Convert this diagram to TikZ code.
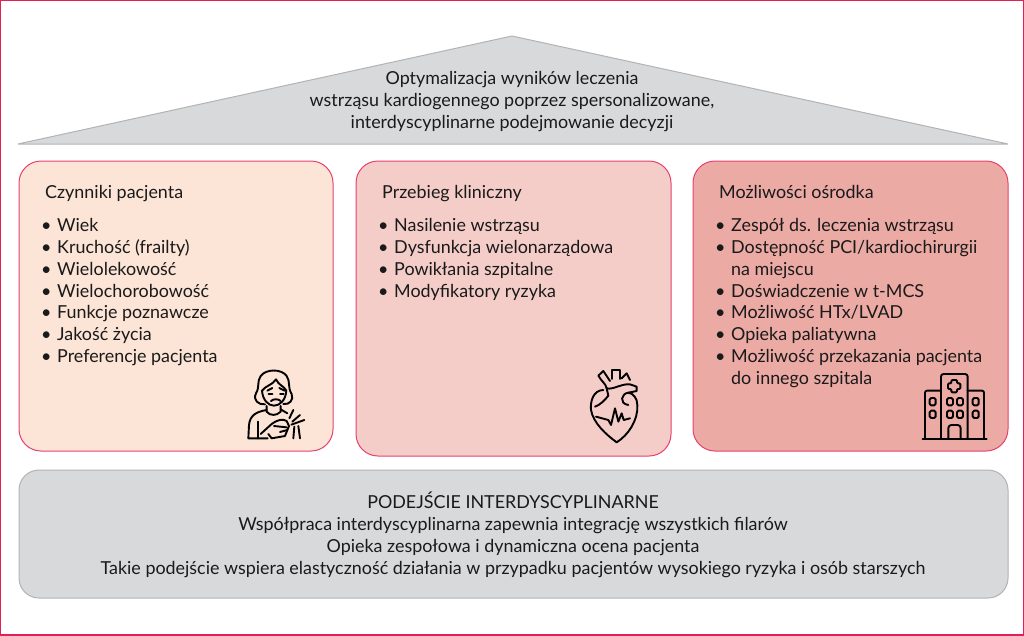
\documentclass[tikz,border=0pt]{standalone}
\usepackage{fontspec}
\setmainfont{Lato}
\usetikzlibrary{positioning}
\definecolor{Frame}{RGB}{226,32,84}
\definecolor{RoofGray}{RGB}{216,217,219}
\definecolor{RoofLine}{RGB}{178,179,181}
\definecolor{PeachFill}{RGB}{252,228,214}
\definecolor{RoseFill}{RGB}{244,205,200}
\definecolor{CoralFill}{RGB}{236,170,165}
\definecolor{InkDark}{RGB}{26,26,26}
\newcommand{\blt}{\makebox[16pt][l]{\textbullet}}
\newcommand{\hng}{\hspace*{16pt}}
\begin{document}
\begin{tikzpicture}[x=1pt,y=-1pt,
   every node/.style={font=\fontsize{17.9}{21.9}\selectfont,text=InkDark,inner sep=0pt},
   pillar/.style={draw=Frame!85,line width=1pt,rounded corners=22pt},
   title/.style={anchor=base west},
   items/.style={anchor=north west,align=left},
   icon/.style={draw=black,line width=1.9pt,line cap=round,line join=round}]
   \useasboundingbox (0,0) rectangle (1024,635);
   \draw[Frame,line width=2pt] (0,0) rectangle (1024,635);
   % roof
   \draw[draw=RoofLine,fill=RoofGray,line width=1pt,line join=bevel] (18,144) -- (512,36) -- (1008,144) -- cycle;
   \node[align=center] (roof) at (512,101.5) {Optymalizacja wyników leczenia\\wstrząsu kardiogennego poprzez spersonalizowane,\\interdyscyplinarne podejmowanie decyzji};
   % pillars
   \draw[pillar,fill=PeachFill] (19,161) rectangle (333,451);
   \draw[pillar,fill=RoseFill] (356,161) rectangle (671,456);
   \draw[pillar,fill=CoralFill] (693,161) rectangle (1008,451);
   \node[title] (patient) at (45,198) {Czynniki pacjenta};
   \node[items] (patientlist) at (41,218) {\blt Wiek\\\blt Kruchość (frailty)\\\blt Wielolekowość\\\blt Wielochorobowość\\\blt Funkcje poznawcze\\\blt Jakość życia\\\blt Preferencje pacjenta};
   \node[title] (course) at (382,198) {Przebieg kliniczny};
   \node[items] (courselist) at (378,218) {\blt Nasilenie wstrząsu\\\blt Dysfunkcja wielonarządowa\\\blt Powikłania szpitalne\\\blt Modyfikatory ryzyka};
   \node[title] (centre) at (719,198) {Możliwości ośrodka};
   \node[items] (centrelist) at (715,218) {\blt Zespół ds. leczenia wstrząsu\\\blt Dostępność PCI/kardiochirurgii\\\hng na miejscu\\\blt Doświadczenie w t-MCS\\\blt Możliwość HTx/LVAD\\\blt Opieka paliatywna\\\blt Możliwość przekazania pacjenta\\\hng do innego szpitala};
   % base
   \draw[draw=RoofLine,fill=RoofGray,line width=1pt,rounded corners=20pt] (19,470) rectangle (1008,598);
   \node[align=center] (base) at (513,534.5) {PODEJŚCIE INTERDYSCYPLINARNE\\Współpraca interdyscyplinarna zapewnia integrację wszystkich filarów\\Opieka zespołowa i dynamiczna ocena pacjenta\\Takie podejście wspiera elastyczność działania w przypadku pacjentów wysokiego ryzyka i osób starszych};
   % woman icon
   \begin{scope}[shift={(230,350)},x=.3333pt,y=-.3333pt]
      \draw[icon] (105,163) .. controls (85,165) and (68,150) .. (78,130) .. controls (90,110) and (80,95) .. (92,78) .. controls (108,56) and (155,56) .. (170,78) .. controls (182,95) and (172,112) .. (185,132) .. controls (192,150) and (178,165) .. (160,162);
      \draw[icon] (96,122) .. controls (105,108) and (128,105) .. (138,88) .. controls (145,105) and (162,108) .. (169,122);
      \draw[icon] (96,122) .. controls (98,150) and (115,167) .. (132,167) .. controls (150,167) and (167,150) .. (169,122);
      \draw[icon] (112,122) -- (127,114) (148,114) -- (164,122) (116,132) -- (127,132) (150,132) -- (161,132);
      \draw[icon] (123,153) .. controls (130,146) and (145,146) .. (152,153);
      \draw[icon] (110,168) -- (110,185) .. controls (120,198) and (140,198) .. (152,185) -- (152,168);
      \draw[icon] (110,180) .. controls (80,185) and (60,195) .. (57,225) -- (55,265) -- (113,265);
      \draw[icon] (85,215) -- (85,265);
      \draw[icon] (152,178) -- (172,190);
      \draw[icon] (92,252) -- (125,222) .. controls (140,210) and (160,205) .. (170,213) -- (177,228) -- (165,258) -- (125,265) -- (115,252);
      \draw[icon] (132,228) -- (170,232) (150,246) -- (172,240);
      \draw[icon] (178,205) -- (190,180) (187,215) -- (210,195) (184,224) -- (223,210);
      \draw[icon] (193,230) -- (190,265) (205,228) -- (210,265);
   \end{scope}
   % heart icon
   \begin{scope}[shift={(575,355)},x=.3333pt,y=-.3333pt]
      \draw[icon] (85,105) .. controls (55,105) and (45,140) .. (48,165) .. controls (55,205) and (95,240) .. (125,262) .. controls (160,240) and (190,195) .. (187,150) .. controls (187,130) and (175,115) .. (160,113);
      \draw[icon] (100,122) -- (95,100) .. controls (92,85) and (80,80) .. (70,62) -- (85,48) -- (105,78);
      \draw[icon] (110,72) -- (110,45) -- (135,45) -- (135,72);
      \draw[icon] (140,70) -- (155,55) -- (165,75);
      \draw[icon] (95,100) .. controls (115,105) and (140,85) .. (165,88) -- (185,95) -- (185,108) -- (160,113) .. controls (140,115) and (130,145) .. (160,150);
      \draw[icon] (60,155) .. controls (75,150) and (90,135) .. (100,122);
      \draw[icon] (63,185) -- (100,195) -- (108,210) -- (120,160) -- (130,200) -- (140,175) -- (146,195) -- (165,190);
   \end{scope}
   % hospital icon
   \begin{scope}[shift={(910,360)},x=.3333pt,y=-.3333pt]
      \draw[icon,rounded corners=2.5pt] (93,237) -- (93,42) -- (173,42) -- (173,237);
      \draw[icon,rounded corners=2pt] (93,92) -- (45,92) -- (45,237);
      \draw[icon,rounded corners=2pt] (173,92) -- (222,92) -- (222,237);
      \draw[icon] (38,237) -- (230,237);
      \draw[icon,rounded corners=1pt] (124,60) -- (141,60) -- (141,70) -- (151,70) -- (151,87) -- (141,87) -- (141,97) -- (124,97) -- (124,87) -- (114,87) -- (114,70) -- (124,70) -- cycle;
      \foreach \wx in {68,120,150,197}
         \foreach \wy in {125,163}
            \draw[icon,rounded corners=1.5pt] (\wx-9,\wy-11) rectangle (\wx+9,\wy+11);
      \draw[icon,rounded corners=3pt] (115,237) -- (115,195) -- (152,195) -- (152,237);
   \end{scope}
\end{tikzpicture}
\end{document}
